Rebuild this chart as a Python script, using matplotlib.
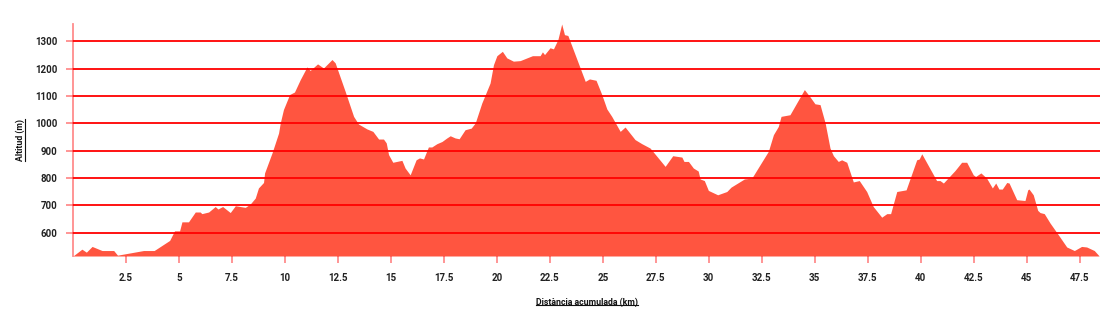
import numpy as np
import matplotlib
matplotlib.use("Agg")
import matplotlib.pyplot as plt
from matplotlib.lines import Line2D

# perfil d'altitud (km, m) llegit del gràfic
dist_km = [0.0, 0.42, 0.63, 0.90, 1.37, 1.92, 2.10, 3.33, 3.83, 4.56, 4.79, 5.03, 5.14, 5.45,
           5.77, 6.00, 6.08, 6.40, 6.71, 6.84, 7.06, 7.42, 7.66, 7.89, 8.13, 8.36, 8.60, 8.75,
           8.99, 9.04, 9.39, 9.70, 9.78, 9.93, 10.22, 10.45, 10.72, 11.04, 11.19, 11.54, 11.82,
           12.22, 12.37, 12.84, 13.24, 13.47, 13.87, 14.15, 14.42, 14.65, 14.78, 14.89, 15.09,
           15.52, 15.67, 15.91, 16.19, 16.35, 16.54, 16.77, 16.93, 17.17, 17.41, 17.64, 17.80,
           18.03, 18.22, 18.50, 18.79, 18.98, 19.29, 19.68, 19.84, 20.00, 20.26, 20.47, 20.78,
           21.10, 21.42, 21.68, 22.04, 22.15, 22.25, 22.51, 22.67, 22.88, 23.06, 23.19, 23.35,
           24.17, 24.37, 24.68, 24.95, 25.19, 25.42, 25.82, 26.05, 26.52, 26.84, 27.23, 27.58,
           27.94, 28.30, 28.73, 28.83, 29.04, 29.27, 29.50, 29.59, 29.79, 29.98, 30.42, 30.85,
           31.05, 31.68, 32.03, 32.81, 33.05, 33.28, 33.41, 33.83, 34.51, 34.78, 35.01, 35.25,
           35.49, 35.72, 35.88, 36.11, 36.27, 36.51, 36.82, 37.10, 37.45, 37.76, 38.16, 38.40,
           38.58, 38.87, 39.31, 39.81, 39.93, 40.05, 40.75, 40.91, 41.07, 41.62, 41.93, 42.17,
           42.48, 42.59, 42.84, 43.11, 43.38, 43.54, 43.69, 43.85, 44.06, 44.17, 44.53, 44.92,
           45.05, 45.11, 45.31, 45.52, 45.63, 45.83, 46.10, 46.49, 46.89, 47.25, 47.59, 47.83,
           48.19, 48.41]
altitud_m = [515, 540, 529, 550, 535, 535, 518, 535, 535, 572, 607, 607, 640, 640,
             676, 676, 670, 676, 696, 687, 696, 674, 699, 696, 693, 705, 727, 764,
             784, 819, 892, 965, 1002, 1051, 1106, 1115, 1160, 1207, 1194, 1218, 1203,
             1234, 1222, 1118, 1026, 998, 980, 971, 943, 943, 929, 886, 858,
             865, 837, 812, 867, 874, 870, 914, 914, 926, 934, 947, 955,
             947, 944, 977, 983, 1002, 1075, 1148, 1215, 1248, 1264, 1240, 1228,
             1230, 1240, 1248, 1248, 1262, 1252, 1277, 1273, 1307, 1364, 1325, 1322,
             1154, 1163, 1158, 1106, 1053, 1026, 971, 987, 941, 926, 910, 877,
             843, 882, 877, 861, 861, 837, 826, 797, 791, 755, 739, 751,
             767, 797, 800, 898, 959, 989, 1026, 1032, 1124, 1097, 1072, 1069,
             1002, 910, 882, 861, 867, 858, 786, 791, 751, 696, 657, 670,
             670, 751, 757, 867, 870, 889, 791, 791, 782, 828, 858, 858,
             812, 806, 819, 800, 764, 782, 760, 760, 784, 782, 721, 718,
             757, 760, 739, 682, 674, 670, 636, 593, 548, 535, 550, 548,
             535, 516]

x_ticks = [2.5, 5, 7.5, 10, 12.5, 15, 17.5, 20, 22.5, 25, 27.5, 30, 32.5, 35, 37.5, 40,
           42.5, 45, 47.5]
x_tick_labels = ["2.5", "5", "7.5", "10", "12.5", "15", "17.5", "20", "22.5", "25", "27.5",
                 "30", "32.5", "35", "37.5", "40", "42.5", "45", "47.5"]
y_ticks = [600, 700, 800, 900, 1000, 1100, 1200, 1300]

plt.rcParams['font.family'] = ['Roboto', 'DejaVu Sans']

fill_color = "#ff5540"
line_color = (1.0, 0.0, 0.0, 0.45)

fig = plt.figure(figsize=(11, 3.25), dpi=100)
ax = fig.add_axes([73 / 1100, 1 - 256 / 325, 1 - 73 / 1100, (256 - 24) / 325])

ax.fill_between(dist_km, altitud_m, min(altitud_m), color=fill_color, linewidth=0, zorder=1)

ax.set_xlim(0, 48.46)
ax.set_ylim(min(altitud_m), max(altitud_m))

ax.set_xticks(x_ticks)
ax.set_xticklabels(x_tick_labels)
ax.set_yticks(y_ticks)
ax.grid(axis="y", color=line_color, linewidth=1.3, zorder=3)
ax.set_axisbelow(False)

for s in ["top", "right", "bottom"]:
    ax.spines[s].set_visible(False)
ax.spines["left"].set_color(line_color)
ax.spines["left"].set_linewidth(1.3)

ax.tick_params(axis="both", colors=line_color, width=1.3, length=5, labelsize=7,
               labelcolor="#222222")
ax.tick_params(axis="x", pad=7)
ax.tick_params(axis="y", pad=6)
for lab in ax.get_xticklabels() + ax.get_yticklabels():
    lab.set_fontweight("bold")

xl = fig.text((73 + 1100) / 2 / 1100, 1 - 305 / 325, "Distància acumulada (km)",
              ha="center", va="baseline", fontsize=6.3, fontweight="bold", color="#111111")
yl = fig.text(20 / 1100, 1 - 140 / 325, "Altitud (m)", rotation=90, ha="center",
              va="center", fontsize=6.3, fontweight="bold", color="#111111")

# subratllat de les etiquetes dels eixos
fig.canvas.draw()
r = fig.canvas.get_renderer()
bb = xl.get_window_extent(r).transformed(fig.transFigure.inverted())
fig.add_artist(Line2D([bb.x0, bb.x1], [bb.y0 + 0.005, bb.y0 + 0.005],
                      transform=fig.transFigure, color="#111111", linewidth=0.8))
bb = yl.get_window_extent(r).transformed(fig.transFigure.inverted())
fig.add_artist(Line2D([bb.x1 + 0.0006, bb.x1 + 0.0006], [bb.y0, bb.y1],
                      transform=fig.transFigure, color="#111111", linewidth=0.8))

fig.savefig("out.png", dpi=100)
